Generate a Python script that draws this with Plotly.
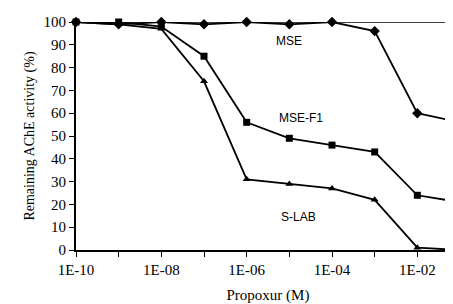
import plotly.graph_objects as go

x_vals = [1e-10, 1e-9, 1e-8, 1e-7, 1e-6, 1e-5, 1e-4, 1e-3, 1e-2, 1e-1]
mse = [100, 99, 100, 99, 100, 99, 100, 96, 60, 56]
mse_f1 = [100, 100, 98, 85, 56, 49, 46, 43, 24, 21]
s_lab = [100, 99, 97, 74, 31, 29, 27, 22, 1, 0]

tick_vals = [1e-10, 1e-9, 1e-8, 1e-7, 1e-6, 1e-5, 1e-4, 1e-3, 1e-2, 1e-1]
tick_text = ["1E-10", "", "1E-08", "", "1E-06", "", "1E-04", "", "1E-02", ""]
y_ticks = [0, 10, 20, 30, 40, 50, 60, 70, 80, 90, 100]

fig = go.Figure()
series = [("MSE", mse, "diamond", 8), ("MSE-F1", mse_f1, "square", 7), ("S-LAB", s_lab, "triangle-up", 7)]
for name, vals, sym, size in series:
    fig.add_trace(go.Scatter(x=x_vals, y=vals, mode="lines+markers", name=name,
                             line=dict(color="black", width=1.8),
                             marker=dict(symbol=sym, size=size, color="black"),
                             cliponaxis=False))

# annotation x given as log10 for log axis
labels = [("MSE", -5.0, 91.5), ("MSE-F1", -4.73, 58), ("S-LAB", -4.78, 14.5)]
for txt, xx, yy in labels:
    fig.add_annotation(x=xx, y=yy, xref="x", yref="y", text=txt, showarrow=False,
                       font=dict(family="Liberation Sans, Arial", size=12, color="black"),
                       xanchor="center", yanchor="middle")

# top line and partial right border
fig.add_shape(type="line", xref="paper", yref="y", x0=0, x1=1, y0=100, y1=100,
              line=dict(color="black", width=1.5))
fig.add_shape(type="line", xref="paper", yref="y", x0=1, x1=1, y0=0, y1=43,
              line=dict(color="black", width=1.5))

fig.update_layout(
    width=453, height=304,
    margin=dict(l=68, r=1, t=14, b=62),
    paper_bgcolor="white", plot_bgcolor="white",
    showlegend=False,
    font=dict(family="Liberation Serif, Times New Roman", color="black"),
    xaxis=dict(type="log", range=[-10, -1], tickvals=tick_vals, ticktext=tick_text,
               ticks="outside", ticklen=5, tickwidth=1, tickcolor="black",
               showline=True, linecolor="black", linewidth=2, showgrid=False, zeroline=False,
               tickfont=dict(family="Liberation Serif, Times New Roman", size=15),
               title=dict(text="Propoxur (M)", font=dict(size=15), standoff=12)),
    yaxis=dict(range=[0, 100], tickvals=y_ticks,
               ticks="outside", ticklen=5, tickwidth=1, tickcolor="black",
               showline=True, linecolor="black", linewidth=2, showgrid=False, zeroline=False,
               tickfont=dict(family="Liberation Serif, Times New Roman", size=15),
               title=dict(text="Remaining AChE activity (%)", font=dict(size=14), standoff=6)),
)

fig.write_html("out.html")
